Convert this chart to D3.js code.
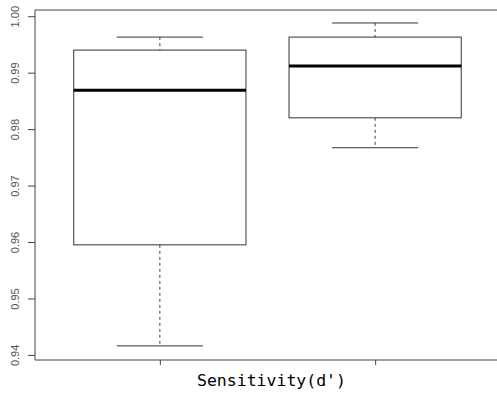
<!DOCTYPE html>
<html>
<head>
<script src="https://d3js.org/d3.v7.min.js"></script>
<style>
  body { margin: 0; background: #fff; }
</style>
</head>
<body>
<div id="chart"></div>
<script>
  // box statistics
  const groups = [1, 2];
  const whiskerLow = [0.9416, 0.9767];
  const q1 = [0.9595, 0.9820];
  const median = [0.9869, 0.9912];
  const q3 = [0.9940, 0.9963];
  const whiskerHigh = [0.9963, 0.9988];
  const yTicks = [0.94, 0.95, 0.96, 0.97, 0.98, 0.99, 1.00];
  const xLabel = "Sensitivity(d')";

  const W = 497, H = 394;
  const plotLeft = 35, plotTop = 10, plotBottom = 360, plotRight = 500;

  const svg = d3.select("#chart").append("svg")
    .attr("width", W).attr("height", H);

  const x = d3.scaleLinear().domain([0.42, 2.58]).range([plotLeft, plotRight]);
  const y = d3.scaleLinear().domain([0.9391, 1.0011]).range([plotBottom, plotTop]);

  const boxes = groups.map((g, i) => ({
    g: g, lo: whiskerLow[i], q1: q1[i], med: median[i], q3: q3[i], hi: whiskerHigh[i]
  }));

  const halfBox = x(1.4) - x(1);
  const halfCap = halfBox / 2;

  const b = svg.selectAll(".box").data(boxes).enter().append("g").attr("class", "box");

  // dashed whiskers
  b.append("line")
    .attr("x1", d => x(d.g)).attr("x2", d => x(d.g))
    .attr("y1", d => y(d.hi)).attr("y2", d => y(d.q3))
    .attr("stroke", "#444").attr("stroke-dasharray", "3,3");
  b.append("line")
    .attr("x1", d => x(d.g)).attr("x2", d => x(d.g))
    .attr("y1", d => y(d.q1)).attr("y2", d => y(d.lo))
    .attr("stroke", "#444").attr("stroke-dasharray", "3,3");

  // caps
  b.append("line")
    .attr("x1", d => x(d.g) - halfCap).attr("x2", d => x(d.g) + halfCap)
    .attr("y1", d => y(d.hi)).attr("y2", d => y(d.hi))
    .attr("stroke", "#333");
  b.append("line")
    .attr("x1", d => x(d.g) - halfCap).attr("x2", d => x(d.g) + halfCap)
    .attr("y1", d => y(d.lo)).attr("y2", d => y(d.lo))
    .attr("stroke", "#333");

  // box
  b.append("rect")
    .attr("x", d => x(d.g) - halfBox).attr("width", 2 * halfBox)
    .attr("y", d => y(d.q3)).attr("height", d => y(d.q1) - y(d.q3))
    .attr("fill", "none").attr("stroke", "#333");

  // median
  b.append("line")
    .attr("x1", d => x(d.g) - halfBox).attr("x2", d => x(d.g) + halfBox)
    .attr("y1", d => y(d.med)).attr("y2", d => y(d.med))
    .attr("stroke", "#000").attr("stroke-width", 3);

  // frame
  svg.append("path")
    .attr("d", `M${plotRight},${plotTop}H${plotLeft}V${plotBottom}H${plotRight}`)
    .attr("fill", "none").attr("stroke", "#444");

  // y axis
  const yAxis = svg.append("g")
    .attr("transform", `translate(${plotLeft},0)`)
    .call(d3.axisLeft(y).tickValues(yTicks).tickSize(7).tickFormat(d3.format(".2f")));
  yAxis.select(".domain").remove();
  yAxis.selectAll("line").attr("stroke", "#444");
  yAxis.selectAll("text")
    .attr("x", 0)
    .attr("y", -20)
    .attr("dy", "0.35em")
    .attr("transform", "rotate(-90)")
    .attr("text-anchor", "middle")
    .attr("fill", "#555")
    .style("font-family", "Liberation Sans, Arial, sans-serif")
    .style("font-size", "11px");

  // x axis ticks
  const xAxis = svg.append("g")
    .attr("transform", `translate(0,${plotBottom})`)
    .call(d3.axisBottom(x).tickValues(groups).tickSize(5).tickFormat(""));
  xAxis.select(".domain").remove();
  xAxis.selectAll("line").attr("stroke", "#444");

  svg.append("text")
    .attr("x", (plotLeft + plotRight) / 2 + 4)
    .attr("y", 386)
    .attr("text-anchor", "middle")
    .style("font-family", "DejaVu Sans Mono, monospace")
    .style("font-size", "16.5px")
    .attr("fill", "#000")
    .text(xLabel);
</script>
</body>
</html>
